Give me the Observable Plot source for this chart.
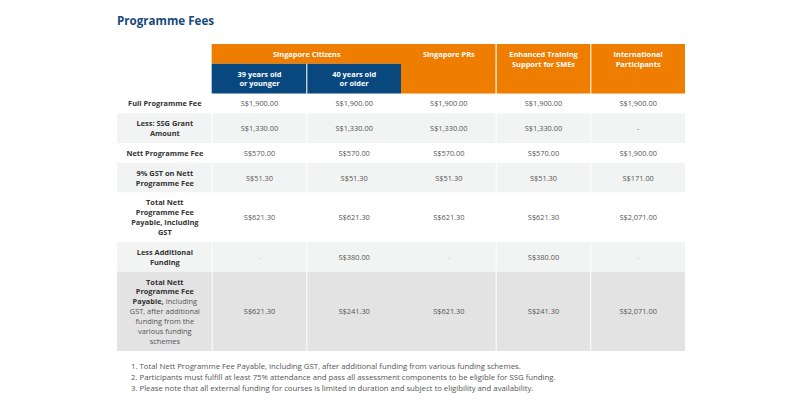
<!DOCTYPE html>
<html>
<head>
<meta charset="utf-8">
<script src="https://cdn.jsdelivr.net/npm/d3@7"></script>
<script src="https://cdn.jsdelivr.net/npm/@observablehq/plot@0.6"></script>
<style>
html, body { margin: 0; padding: 0; background: #fff; width: 800px; height: 400px; overflow: hidden; font-family: "Open Sans", sans-serif; }
#title { height: 38px; line-height: 38px; margin: 0; padding: 2px 0 0 117px; font-size: 11.6px; font-weight: 700; color: #174a7c; }
#chart svg { display: block; }
#notes { padding: 8.5px 0 0 131px; font-size: 7.75px; line-height: 11px; color: #555; }
</style>
</head>
<body>
<h2 id="title">Programme Fees</h2>
<div id="chart"></div>
<div id="notes"></div>
<script>
// ---- data ----
const columnHeaders = ["39 years old\nor younger", "40 years old\nor older", "Singapore PRs", "Enhanced Training\nSupport for SMEs", "International\nParticipants"];
const columnGroups = ["Singapore Citizens", "Singapore Citizens", null, null, null];

// segments in [ ] are regular weight, the rest bold
const rowLabels = [
  "Full Programme Fee",
  "Less: SSG Grant\nAmount",
  "Nett Programme Fee",
  "9% GST on Nett\nProgramme Fee",
  "Total Nett\nProgramme Fee\nPayable, Including\nGST",
  "Less Additional\nFunding",
  "Total Nett\nProgramme Fee\nPayable,[ Including]\n[GST, after additional]\n[funding from the]\n[various funding]\n[schemes]"
];

const citizens39 = [1900, 1330, 570, 51.30, 621.30, null, 621.30];
const citizens40 = [1900, 1330, 570, 51.30, 621.30, 380, 241.30];
const singaporePRs = [1900, 1330, 570, 51.30, 621.30, null, 621.30];
const enhancedSMEs = [1900, 1330, 570, 51.30, 621.30, 380, 241.30];
const international = [1900, null, 1900, 171.00, 2071.00, null, 2071.00];

const footnotes = [
  "1. Total Nett Programme Fee Payable, including GST, after additional funding from various funding schemes.",
  "2. Participants must fulfill at least 75% attendance and pass all assessment components to be eligible for SSG funding.",
  "3. Please note that all external funding for courses is limited in duration and subject to eligibility and availability."
];

// ---- layout derived from the data (in line units) ----
const series = [citizens39, citizens40, singaporePRs, enhancedSMEs, international];
const nCols = columnHeaders.length;
const ORANGE = "#ee7d00", BLUE = "#08487f";

const groupUnits = 2;
const subUnits = d3.max(columnHeaders, h => h.split("\n").length) + 1;
const headerUnits = groupUnits + subUnits;

const labelLines = rowLabels.map(s => s.split("\n"));
const rowUnits = labelLines.map(l => l.length + 1);
const rows = [];
let acc = headerUnits;
rowUnits.forEach((u, i) => {
  rows.push({i, top: acc, bottom: acc + u, mid: acc + u / 2,
    fill: i === rowUnits.length - 1 ? "#e3e3e3" : (i % 2 ? "#f2f3f3" : "#ffffff")});
  acc += u;
});
const totalUnits = acc;

// header cells
const headerCells = [];
const headerText = [];
const groups = d3.groups(columnGroups.map((g, j) => ({g, j})).filter(d => d.g), d => d.g);
for (const [g, items] of groups) {
  const j0 = d3.min(items, d => d.j), j1 = d3.max(items, d => d.j);
  headerCells.push({x1: j0 + 1, x2: j1 + 2, y1: 0, y2: groupUnits, fill: ORANGE});
  headerText.push({x: (j0 + j1) / 2 + 1.5, y: groupUnits / 2, text: g});
}
columnHeaders.forEach((h, j) => {
  const grouped = !!columnGroups[j];
  const y1 = grouped ? groupUnits : 0;
  headerCells.push({x1: j + 1, x2: j + 2, y1, y2: headerUnits, fill: grouped ? BLUE : ORANGE});
  h.split("\n").forEach((line, k) => headerText.push({x: j + 1.5, y: y1 + k + 1, text: line}));
});

// dividers
const headerDividers = [];
const bodyDividers = [];
for (let k = 1; k <= nCols; k++) {
  const left = columnGroups[k - 2], right = columnGroups[k - 1];
  if (k >= 2 && !(left && !right)) {
    const sameGroup = left && right && left === right;
    headerDividers.push({x: k, y1: sameGroup ? groupUnits : 0, y2: headerUnits});
  }
  if (!(left && !right)) bodyDividers.push({x: k, y1: headerUnits, y2: totalUnits});
}

// label lines
const labelText = [];
labelLines.forEach((lines, i) => lines.forEach((line, k) =>
  labelText.push({x: 0.5, y: rows[i].top + k + 1, text: line})));

// values
const fmt = d3.format(",.2f");
const valueText = [];
series.forEach((vals, j) => vals.forEach((v, i) => valueText.push({
  x: j + 1.5, y: rows[i].mid,
  text: v == null ? "-" : "S$" + fmt(v),
  color: v == null && rowLabels[i].startsWith("Less Additional") ? "#c4c4c4" : "#555"
})));

const chart = Plot.plot({
  width: 800, height: 312, margin: 0,
  x: {type: "linear", domain: [0, nCols + 1], range: [117, 685], axis: null},
  y: {type: "linear", domain: [0, totalUnits], range: [4, 311], axis: null},
  style: {fontFamily: "'Open Sans', sans-serif", background: "white"},
  marks: [
    Plot.rect(rows, {x1: () => 0, x2: () => nCols + 1, y1: "top", y2: "bottom", fill: "fill"}),
    Plot.rect(headerCells, {x1: "x1", x2: "x2", y1: "y1", y2: "y2", fill: "fill"}),
    Plot.ruleX(bodyDividers, {x: "x", y1: "y1", y2: "y2", stroke: "white", strokeWidth: 1}),
    Plot.ruleX(headerDividers, {x: "x", y1: "y1", y2: "y2", stroke: "white", strokeWidth: 1}),
    Plot.text(headerText, {x: "x", y: "y", text: "text", fill: "white", fontWeight: 700, fontSize: 7.4}),
    Plot.text(labelText, {x: "x", y: "y", text: "text", fill: "#333", fontWeight: 700, fontSize: 7.4}),
    Plot.text(valueText, {x: "x", y: "y", text: "text", fill: "color", fontSize: 7.4})
  ]
});

// regular-weight segments marked with [ ]
d3.select(chart).selectAll("text").each(function () {
  const t = this.textContent;
  if (!t.includes("[")) return;
  const sel = d3.select(this);
  sel.text(null);
  t.split(/(\[[^\]]*\])/).filter(s => s.length).forEach(seg => {
    const plain = seg.startsWith("[");
    const ts = sel.append("tspan").text(plain ? seg.slice(1, -1) : seg);
    if (plain) ts.attr("font-weight", 400).attr("fill", "#555");
  });
});

document.getElementById("chart").appendChild(chart);
const notes = document.getElementById("notes");
footnotes.forEach(f => { const d = document.createElement("div"); d.textContent = f; notes.appendChild(d); });
</script>
</body>
</html>
